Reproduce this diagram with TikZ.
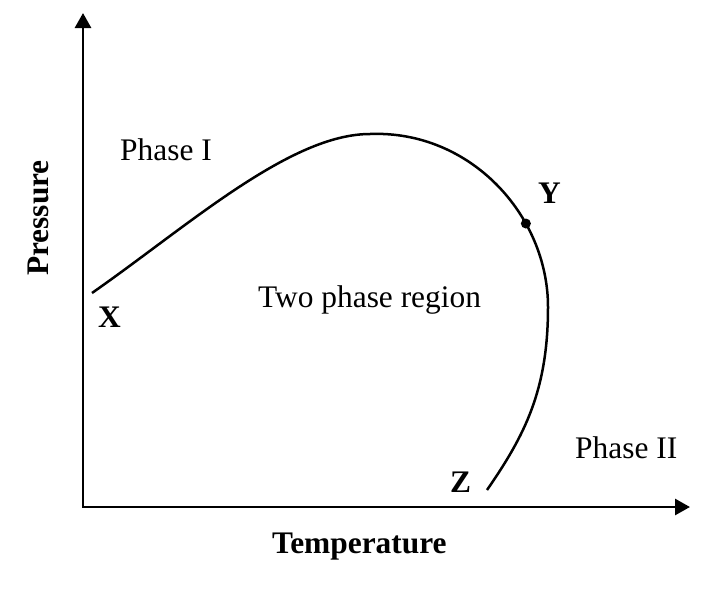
\documentclass[tikz,border=0pt]{standalone}
\usepackage{fontspec}
\setmainfont{Liberation Serif}
\usetikzlibrary{arrows.meta}

\begin{document}
\begin{tikzpicture}[x=1pt,y=-1pt,
  axis/.style={line width=2.8pt,{Triangle[length=15pt,width=16pt]}-{Triangle[length=15pt,width=16pt]}},
  txt/.style={font=\fontsize{31.4}{37}\selectfont,inner sep=0pt,anchor=base west},
  btxt/.style={txt,font=\fontsize{31.4}{37}\selectfont\bfseries}]
\useasboundingbox (0,0) rectangle (712,592);

% Draw axes
\coordinate (O) at (83,507);
\coordinate (ptop) at (83,13);
\coordinate (tend) at (690,507);
\draw[axis] (ptop) -- (O) -- (tend);

\node[btxt] (tlbl) at (272,553) {Temperature};
\node[btxt,rotate=90,anchor=center] (plbl) at (38.5,218) {Pressure};

% phase boundary, X to Z
\draw[line width=2.5pt] (92,293) coordinate (Xpt)
  .. controls (188,226) and (290,134) .. (370,134)
  .. controls (470,130) and (548,215) .. coordinate[pos=0.68] (Ypt) (548,307)
  .. controls (548,390) and (525,435) .. (487,490) coordinate (Zpt);
\fill (Ypt) circle (5pt);

\node[btxt] (xlbl) at (98,327) {X};
\node[btxt] (ylbl) at (538,203) {Y};
\node[btxt] (zlbl) at (450,492) {Z};

\node[txt] (ph1) at (120,160) {Phase I};
\node[txt] (ph2) at (575,458) {Phase II};
\node[txt] (two) at (258,307) {Two phase region};

\end{tikzpicture}
\end{document}
